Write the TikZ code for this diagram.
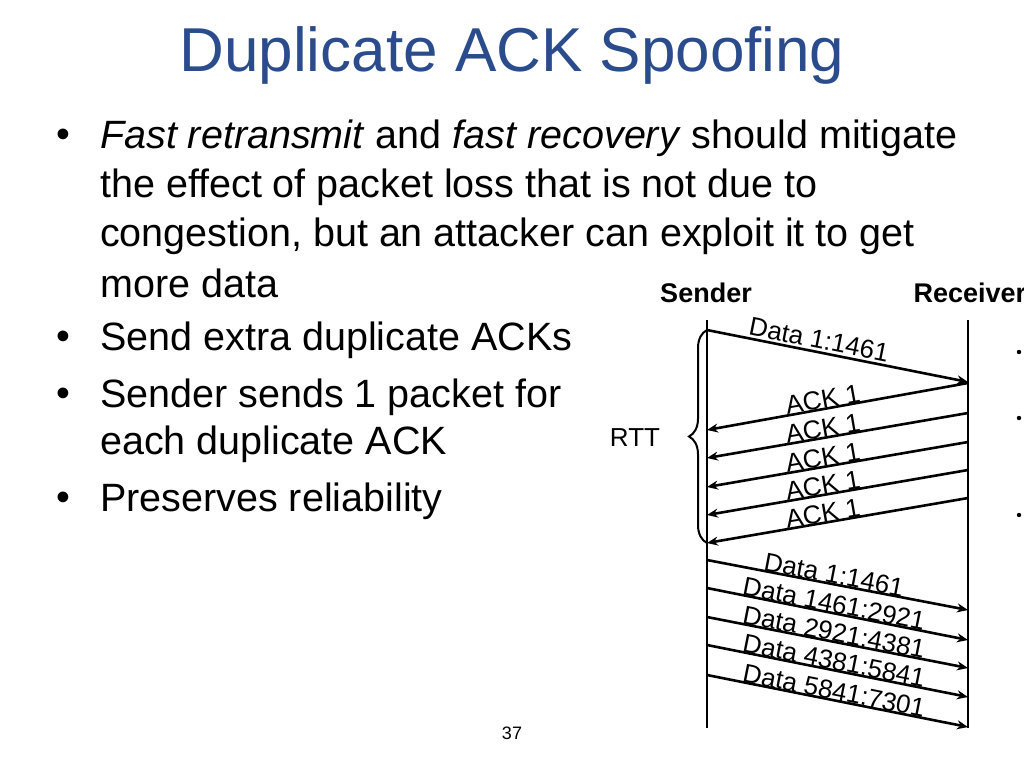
\documentclass[tikz,border=0pt]{standalone}
\usepackage{fontspec}
\setmainfont{Liberation Sans}
\usetikzlibrary{arrows.meta,decorations.pathreplacing}
\definecolor{titleblue}{HTML}{2B4C8C}
\tikzstyle{bullet} = [anchor=west, font=\fontsize{39.5}{40}\selectfont, inner sep=0pt]
\tikzstyle{msg} = [line width=2.6pt,-{Stealth[length=11pt,width=9pt]}]
\tikzstyle{lbl} = [sloped, above, inner sep=0pt, font=\fontsize{26}{26}\selectfont]
\begin{document}
\begin{tikzpicture}[x=1pt,y=-1pt]
    \useasboundingbox (0,0) rectangle (1024,768);

    \node (title) [text=titleblue, font=\fontsize{62}{64}\selectfont] at (512,55) {Duplicate ACK Spoofing};

    % bullet list
    \node (b1) [bullet] at (56,138) {\textbullet};
    \node (l1) [bullet] at (100,138) {\textit{Fast retransmit} and \textit{fast recovery} should mitigate};
    \node (l2) [bullet] at (100,187) {the effect of packet loss that is not due to};
    \node (l3) [bullet] at (100,236) {congestion, but an attacker can exploit it to get};
    \node (l4) [bullet] at (100,283) {more data};
    \node (b2) [bullet] at (56,340) {\textbullet};
    \node (l5) [bullet] at (100,340) {Send extra duplicate ACKs};
    \node (b3) [bullet] at (56,397) {\textbullet};
    \node (l6) [bullet] at (100,397) {Sender sends 1 packet for};
    \node (l7) [bullet] at (100,444) {each duplicate ACK};
    \node (b4) [bullet] at (56,501) {\textbullet};
    \node (l8) [bullet] at (100,501) {Preserves reliability};

    % time lines
    \node (sender) [font=\bfseries\fontsize{27}{27}\selectfont] at (706,293) {Sender};
    \node (receiver) [anchor=west, font=\bfseries\fontsize{27}{27}\selectfont] at (910,293) {Receiver};
    \draw[line width=2.8pt] (707,320) coordinate (stop) -- (707,728) coordinate (sbot);
    \draw[line width=2.8pt] (968,320) coordinate (rtop) -- (968,728) coordinate (rbot);

    % messages
    \coordinate (d0s) at (707,330);
    \coordinate (d0r) at (968,382);
    \draw[msg] (d0s) -- node[lbl, pos=0.42, yshift=2pt] {Data 1:1461} (d0r);
    \foreach \ys/\ye [count=\i] in {383/430, 413/458, 442/487, 470/515, 498/543} {
        \coordinate (a\i r) at (968,\ys);
        \coordinate (a\i s) at (707,\ye);
        \draw[msg] (a\i r) -- node[lbl, pos=0.55, yshift=-1pt] {ACK 1} (a\i s);
    }
    \foreach \ys/\ye/\txt [count=\i] in {560/610/1:1461, 588/640/1461:2921, 617/668/2921:4381, 645/697/4381:5841, 675/727/5841:7301} {
        \coordinate (p\i s) at (707,\ys);
        \coordinate (p\i r) at (968,\ye);
        \draw[msg] (p\i s) -- node[lbl, pos=0.48, yshift=-1pt] {Data \txt} (p\i r);
    }

    % RTT brace
    \draw[line width=2pt, decorate, decoration={brace, amplitude=18pt}] (707,543) -- (707,330);
    \node (rtt) [font=\fontsize{26}{26}\selectfont] at (635,438) {RTT};

    % cut-off bullets
    \foreach \y [count=\i] in {352,418,515} \fill (1019,\y) circle (2.2pt) coordinate (cb\i);

    \node (page) [font=\fontsize{18}{18}\selectfont] at (512,733) {37};
\end{tikzpicture}
\end{document}
